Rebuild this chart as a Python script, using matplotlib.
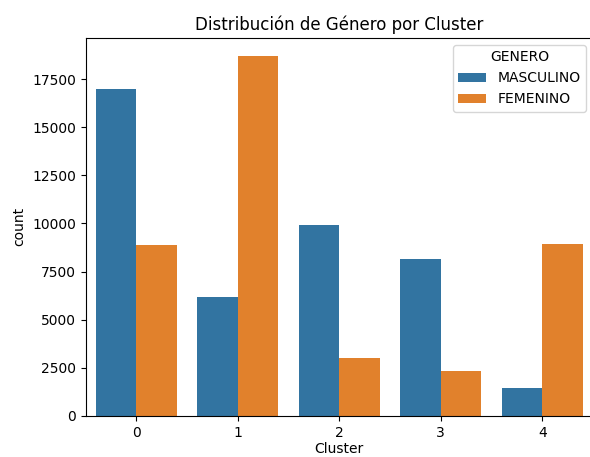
import pandas as pd
import seaborn as sns
from matplotlib import pyplot as plt

clusters = [0, 1, 2, 3, 4]
masculino = [16990, 6180, 9930, 8150, 1470]
femenino = [8890, 18700, 3000, 2310, 8930]

df = pd.DataFrame({
    'Cluster': clusters * 2,
    'count': masculino + femenino,
    'GENERO': ['MASCULINO'] * len(clusters) + ['FEMENINO'] * len(clusters),
})

fig = plt.figure(figsize=(5.9, 4.57), dpi=100)
# the reference is cropped just at the right spine
ax = fig.add_axes([0.145, 0.09, 0.86, 0.827])
sns.barplot(data=df, x='Cluster', y='count', hue='GENERO', ax=ax)
ax.set_title('Distribución de Género por Cluster')
ax.set_xlabel('Cluster', labelpad=2)

fig.savefig('out.png', dpi=100)
